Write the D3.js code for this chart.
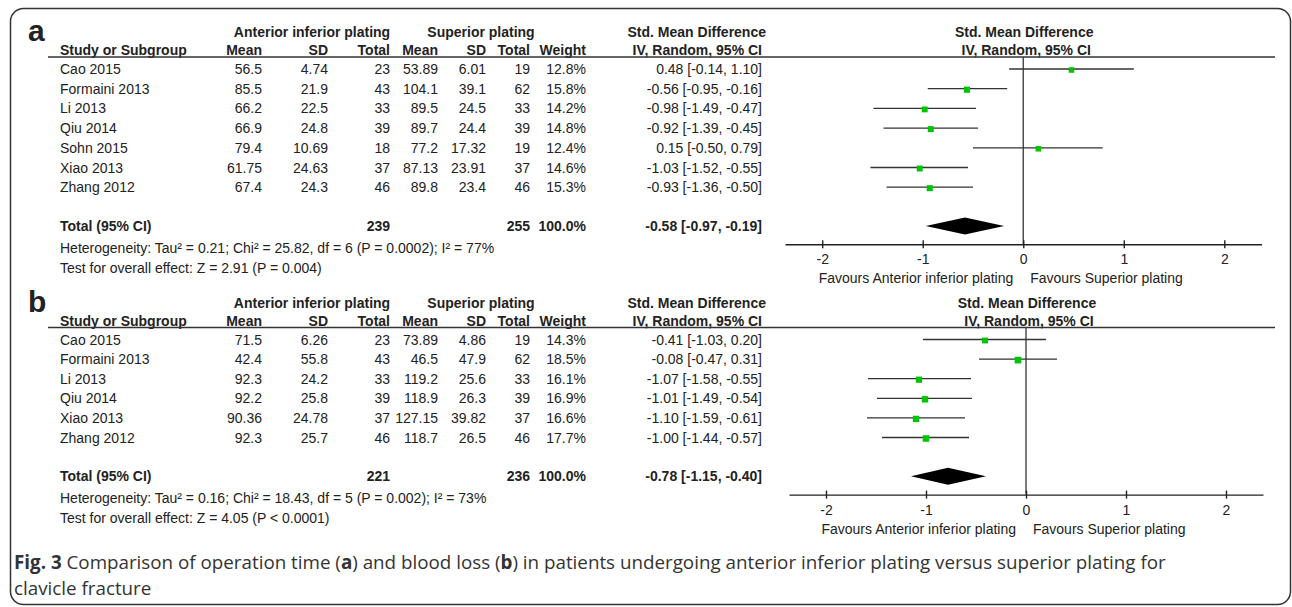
<!DOCTYPE html>
<html><head><meta charset="utf-8">
<script src="https://cdn.jsdelivr.net/npm/d3@7"></script>
<style>
body{margin:0;background:#fff;}
svg{display:block;}
text{font-family:"Liberation Sans",Arial,Helvetica,sans-serif;fill:#222;}
</style>
</head><body>
<svg id="c" width="1292" height="607"></svg>
<script>
// ---------- Panel a : operation time ----------
const studiesA = ["Cao 2015","Formaini 2013","Li 2013","Qiu 2014","Sohn 2015","Xiao 2013","Zhang 2012"];
const aiMeanA  = ["56.5","85.5","66.2","66.9","79.4","61.75","67.4"];
const aiSdA    = ["4.74","21.9","22.5","24.8","10.69","24.63","24.3"];
const aiTotalA = [23,43,33,39,18,37,46];
const spMeanA  = ["53.89","104.1","89.5","89.7","77.2","87.13","89.8"];
const spSdA    = ["6.01","39.1","24.5","24.4","17.32","23.91","23.4"];
const spTotalA = [19,62,33,39,19,37,46];
const weightA  = [12.8,15.8,14.2,14.8,12.4,14.6,15.3];
const smdA     = [0.48,-0.56,-0.98,-0.92,0.15,-1.03,-0.93];
const loA      = [-0.14,-0.95,-1.49,-1.39,-0.50,-1.52,-1.36];
const hiA      = [1.10,-0.16,-0.47,-0.45,0.79,-0.55,-0.50];
const totalA   = {ai:239, sp:255, smd:-0.58, lo:-0.97, hi:-0.19};
const hetA     = "Heterogeneity: Tau² = 0.21; Chi² = 25.82, df = 6 (P = 0.0002); I² = 77%";
const testA    = "Test for overall effect: Z = 2.91 (P = 0.004)";

// ---------- Panel b : blood loss ----------
const studiesB = ["Cao 2015","Formaini 2013","Li 2013","Qiu 2014","Xiao 2013","Zhang 2012"];
const aiMeanB  = ["71.5","42.4","92.3","92.2","90.36","92.3"];
const aiSdB    = ["6.26","55.8","24.2","25.8","24.78","25.7"];
const aiTotalB = [23,43,33,39,37,46];
const spMeanB  = ["73.89","46.5","119.2","118.9","127.15","118.7"];
const spSdB    = ["4.86","47.9","25.6","26.3","39.82","26.5"];
const spTotalB = [19,62,33,39,37,46];
const weightB  = [14.3,18.5,16.1,16.9,16.6,17.7];
const smdB     = [-0.41,-0.08,-1.07,-1.01,-1.10,-1.00];
const loB      = [-1.03,-0.47,-1.58,-1.49,-1.59,-1.44];
const hiB      = [0.20,0.31,-0.55,-0.54,-0.61,-0.57];
const totalB   = {ai:221, sp:236, smd:-0.78, lo:-1.15, hi:-0.40};
const hetB     = "Heterogeneity: Tau² = 0.16; Chi² = 18.43, df = 5 (P = 0.002); I² = 73%";
const testB    = "Test for overall effect: Z = 4.05 (P < 0.0001)";

// ---------- shared labels ----------
const axisTicks = [-2,-1,0,1,2];
const favourLeft = "Favours Anterior inferior plating";
const favourRight = "Favours Superior plating";

const svg = d3.select("#c");
const f2 = v => v.toFixed(2);
const ciText = (m,l,h) => `${f2(m)} [${f2(l)}, ${f2(h)}]`;

// column right edges
const C = {m1:262, sd1:328, n1:390, m2:438, sd2:486, n2:530, w:586, ci:762};

// frame
svg.append("rect").attr("x",10.5).attr("y",8.5).attr("width",1280).attr("height",596)
  .attr("rx",13).attr("fill","none").attr("stroke","#333").attr("stroke-width",1.5);

function drawPanel(p){
  const g = svg.append("g");
  const lineY = p.lineY;
  const rowY = i => lineY + 12 + p.step*i;
  const n = p.studies.length;
  const totY = rowY(n-1) + 38.8;
  const hetY = totY + 21.5;
  const testY = hetY + 20;
  const axisY = totY + 18.3;
  const groupB = lineY - 20;
  const colB = lineY - 2;

  const txt = (x, y, s, anchor, bold, size) => g.append("text")
    .attr("x", x).attr("y", y).attr("text-anchor", anchor || "start")
    .style("font-size", (size||14)+"px").style("font-weight", bold ? "bold" : "normal").text(s);

  txt(28, lineY - 16, p.letter, "start", true, 30);

  txt(C.n1 - 78, groupB, "Anterior inferior plating", "middle", true);
  txt(C.n2 - 49, groupB, "Superior plating", "middle", true);
  txt(C.ci + 4, groupB, "Std. Mean Difference", "end", true);
  txt(p.x(0)+1, groupB, "Std. Mean Difference", "middle", true);

  txt(p.nameX, colB, "Study or Subgroup", "start", true);
  txt(C.m1, colB, "Mean", "end", true);
  txt(C.sd1, colB, "SD", "end", true);
  txt(C.n1, colB, "Total", "end", true);
  txt(C.m2, colB, "Mean", "end", true);
  txt(C.sd2, colB, "SD", "end", true);
  txt(C.n2, colB, "Total", "end", true);
  txt(C.w, colB, "Weight", "end", true);
  txt(C.ci, colB, "IV, Random, 95% CI", "end", true);
  txt(p.x(0)+3, colB, "IV, Random, 95% CI", "middle", true);

  g.append("line").attr("x1",48).attr("x2",1275).attr("y1",lineY).attr("y2",lineY)
    .attr("stroke","#333").attr("stroke-width",1.4);

  p.studies.forEach((s,i)=>{
    const b = rowY(i) + 5;
    txt(p.nameX, b, s);
    txt(C.m1, b, p.aiMean[i], "end");
    txt(C.sd1, b, p.aiSd[i], "end");
    txt(C.n1, b, p.aiTotal[i], "end");
    txt(C.m2, b, p.spMean[i], "end");
    txt(C.sd2, b, p.spSd[i], "end");
    txt(C.n2, b, p.spTotal[i], "end");
    txt(C.w, b, p.weight[i].toFixed(1)+"%", "end");
    txt(C.ci, b, ciText(p.smd[i], p.lo[i], p.hi[i]), "end");
  });

  txt(p.nameX, totY+5, "Total (95% CI)", "start", true);
  txt(C.n1, totY+5, p.total.ai, "end", true);
  txt(C.n2, totY+5, p.total.sp, "end", true);
  txt(C.w, totY+5, "100.0%", "end", true);
  txt(C.ci, totY+5, ciText(p.total.smd, p.total.lo, p.total.hi), "end", true);
  txt(p.nameX, hetY+5, p.het);
  txt(p.nameX, testY+5, p.test);

  g.append("line").attr("x1",p.x(0)).attr("x2",p.x(0)).attr("y1",lineY).attr("y2",axisY)
    .attr("stroke","#444").attr("stroke-width",1.4);

  p.studies.forEach((s,i)=>{
    const y = rowY(i);
    g.append("line").attr("x1",p.x(p.lo[i])).attr("x2",p.x(p.hi[i])).attr("y1",y).attr("y2",y)
      .attr("stroke","#333").attr("stroke-width",1.3);
    const sz = 6.2*Math.sqrt(p.weight[i]/16);
    g.append("rect").attr("x",p.x(p.smd[i])-sz/2).attr("y",y-sz/2+1).attr("width",sz).attr("height",sz)
      .attr("fill","#00c400");
  });

  const t = p.total;
  g.append("path").attr("d",
    `M${p.x(t.lo)},${totY} L${p.x(t.smd)},${totY-8.5} L${p.x(t.hi)},${totY} L${p.x(t.smd)},${totY+8.5} Z`)
    .attr("fill","#000");

  const ax = g.append("g").attr("transform",`translate(0,${axisY})`)
    .call(d3.axisBottom(p.x).tickValues(axisTicks).tickFormat(d=>String(d)).tickSizeOuter(0).tickSizeInner(4));
  ax.select(".domain").attr("stroke","#222").attr("stroke-width",1.4);
  ax.selectAll(".tick line").attr("y1",-4).attr("y2",4).attr("stroke","#222").attr("stroke-width",1.4);
  ax.selectAll(".tick text").attr("y",10).attr("dy","0.71em")
    .style("font-size","14px").style("font-family",'"Liberation Sans",Arial,sans-serif').attr("fill","#222");

  txt(p.x(0)-10, axisY+39, favourLeft, "end");
  txt(p.x(0)+7, axisY+39, favourRight, "start");
}

drawPanel({
  letter:"a", lineY:57, step:19.7, nameX:60,
  studies:studiesA, aiMean:aiMeanA, aiSd:aiSdA, aiTotal:aiTotalA,
  spMean:spMeanA, spSd:spSdA, spTotal:spTotalA, weight:weightA,
  smd:smdA, lo:loA, hi:hiA, total:totalA, het:hetA, test:testA,
  x: d3.scaleLinear().domain([-2.37,2.37]).range([785,1261.5])
});
drawPanel({
  letter:"b", lineY:327.5, step:19.6, nameX:60,
  studies:studiesB, aiMean:aiMeanB, aiSd:aiSdB, aiTotal:aiTotalB,
  spMean:spMeanB, spSd:spSdB, spTotal:spTotalB, weight:weightB,
  smd:smdB, lo:loB, hi:hiB, total:totalB, het:hetB, test:testB,
  x: d3.scaleLinear().domain([-2.37,2.37]).range([789,1263])
});

// caption
const cap = svg.append("text").attr("x",14).attr("y",569)
  .style("font-family",'"Open Sans",sans-serif').style("font-size","18.8px");
const capParts = [["Fig. 3",true],[" Comparison of operation time (",false],["a",true],[") and blood loss (",false],["b",true],[") in patients undergoing anterior inferior plating versus superior plating for",false]];
capParts.forEach(([s,b])=>cap.append("tspan").style("font-weight",b?"bold":"normal").style("fill","#333").text(s));
svg.append("text").attr("x",14).attr("y",595)
  .style("font-family",'"Open Sans",sans-serif').style("font-size","18.8px").style("fill","#333")
  .text("clavicle fracture");
</script>
</body></html>
